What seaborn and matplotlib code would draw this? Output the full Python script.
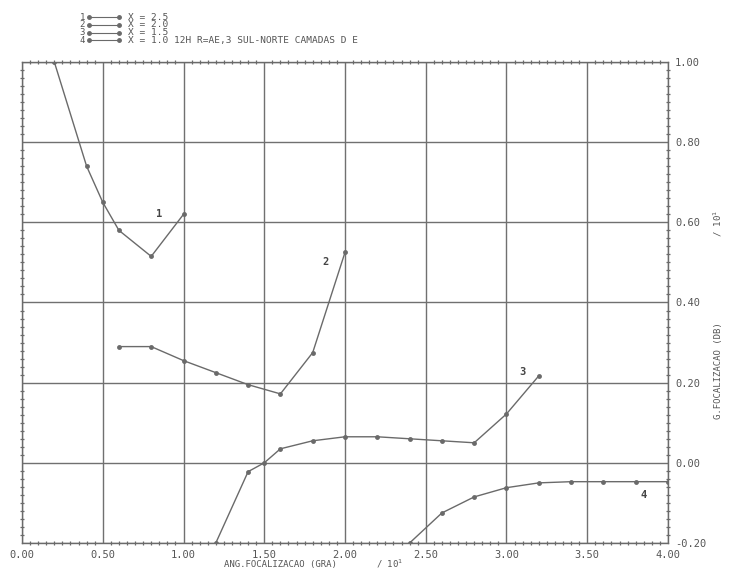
import pandas as pd
import numpy as np
import matplotlib
matplotlib.use('Agg')
import matplotlib.pyplot as plt
import seaborn as sns
from matplotlib.ticker import MultipleLocator, FormatStrFormatter

# curve data (x in units of 10 deg, y in units of 10 dB)
x1 = [0.2, 0.4, 0.5, 0.6, 0.8, 1.0]
y1 = [1.00, 0.74, 0.65, 0.58, 0.515, 0.62]

x2 = [0.6, 0.8, 1.0, 1.2, 1.4, 1.6, 1.8, 2.0]
y2 = [0.29, 0.29, 0.255, 0.225, 0.195, 0.172, 0.275, 0.525]

x3 = [1.2, 1.4, 1.5, 1.6, 1.8, 2.0, 2.2, 2.4, 2.6, 2.8, 3.0, 3.2]
y3 = [-0.20, -0.022, 0.0, 0.035, 0.055, 0.065, 0.065, 0.06, 0.055, 0.05, 0.122, 0.217]

x4 = [2.4, 2.6, 2.8, 3.0, 3.2, 3.4, 3.6, 3.8, 4.0]
y4 = [-0.20, -0.125, -0.085, -0.062, -0.05, -0.047, -0.047, -0.047, -0.047]

curve_ids = ['1', '2', '3', '4']
legend_texts = ['X = 2.5', 'X = 2.0', 'X = 1.5',
                'X = 1.0 12H R=AE,3 SUL-NORTE CAMADAS D E']
label_pos = [(0.85, 0.62), (1.88, 0.50), (3.10, 0.227), (3.85, -0.08)]

df = pd.concat([
    pd.DataFrame({'x': x1, 'y': y1, 'curva': '1'}),
    pd.DataFrame({'x': x2, 'y': y2, 'curva': '2'}),
    pd.DataFrame({'x': x3, 'y': y3, 'curva': '3'}),
    pd.DataFrame({'x': x4, 'y': y4, 'curva': '4'}),
])

sns.set_style('white')
plt.rcParams['font.family'] = ['DejaVu Sans Mono']

ink = '#6a6a6a'
fig = plt.figure(figsize=(7.29, 5.74), dpi=100)
ax = fig.add_axes([0.0302, 0.054, 0.8861, 0.838])

sns.lineplot(data=df, x='x', y='y', hue='curva', units='curva', estimator=None,
             palette={c: ink for c in curve_ids}, marker='o', markersize=3.5,
             markeredgewidth=0, linewidth=1.0, sort=False, legend=False, ax=ax)

ax.set_xlim(0, 4.0)
ax.set_ylim(-0.2, 1.0)
ax.xaxis.set_major_locator(MultipleLocator(0.5))
ax.xaxis.set_minor_locator(MultipleLocator(0.05))
ax.yaxis.set_major_locator(MultipleLocator(0.2))
ax.yaxis.set_minor_locator(MultipleLocator(0.02))
ax.xaxis.set_major_formatter(FormatStrFormatter('%.2f'))
ax.yaxis.set_major_formatter(FormatStrFormatter('%.2f'))
ax.grid(True, which='major', color='#707070', linewidth=1.0)
ax.tick_params(which='both', top=True, bottom=True, left=True, right=True,
               labelleft=False, labelright=True, direction='inout',
               colors=ink, labelcolor='#555555', labelsize=7.5)
ax.tick_params(which='major', length=0, pad=5)
ax.tick_params(which='minor', length=3, width=0.9)
for s in ax.spines.values():
    s.set_color(ink)
    s.set_linewidth(1.0)
ax.set_xlabel('')
ax.set_ylabel('')

for cid, (lx, ly) in zip(curve_ids, label_pos):
    ax.text(lx, ly, cid, fontsize=7.5, color='#444444', ha='center', va='center',
            fontweight='bold')

# axis titles, drawn like the plotter did
fig.text(0.385, 0.012, 'ANG.FOCALIZACAO (GRA)', fontsize=6.5, color='#555555', ha='center')
fig.text(0.535, 0.012, '/ 10$^1$', fontsize=6.5, color='#555555', ha='center')
fig.text(0.985, 0.355, 'G.FOCALIZACAO (DB)', fontsize=6.5, color='#555555',
         rotation=90, va='center', ha='center')
fig.text(0.985, 0.61, '/ 10$^1$', fontsize=6.5, color='#555555',
         rotation=90, va='center', ha='center')

# legend block top left
for i, (cid, txt) in enumerate(zip(curve_ids, legend_texts)):
    yy = 1 - (17 + i * 7.8) / 574
    fig.text(0.113, yy, cid, fontsize=6.5, color='#555555', ha='center', va='center')
    fig.add_artist(plt.Line2D([0.122, 0.163], [yy, yy], color=ink, linewidth=0.8,
                              marker='o', markersize=2.5, markevery=[0, 1],
                              transform=fig.transFigure))
    fig.text(0.176, yy, txt, fontsize=6.8, color='#555555', ha='left', va='center')

fig.savefig('out.png', dpi=100)
